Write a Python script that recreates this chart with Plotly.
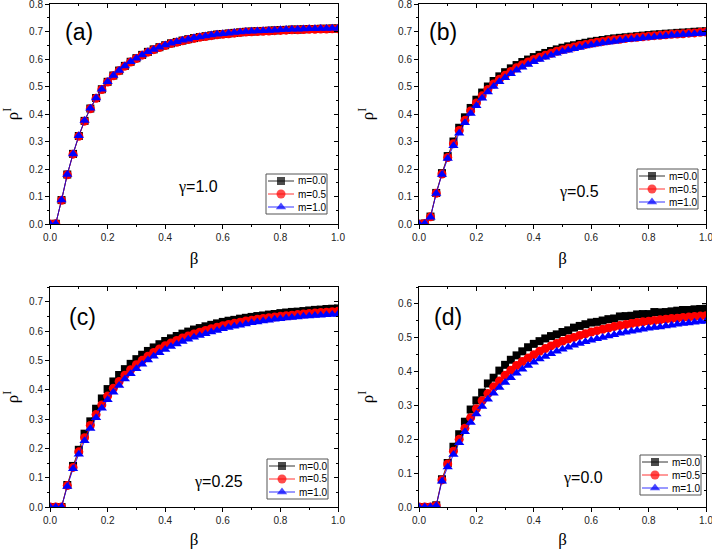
import plotly.graph_objects as go

beta = [round(i * 0.02, 2) for i in range(51)]

# Panel (a) gamma = 1.0
a_m00 = [0, 0.001, 0.087, 0.18, 0.255, 0.32, 0.375, 0.42, 0.458, 0.49, 0.517, 0.54, 0.558, 0.575, 0.59, 0.603, 0.615, 0.626, 0.635, 0.643, 0.65, 0.657, 0.662, 0.667, 0.672, 0.676, 0.68, 0.683, 0.686, 0.689, 0.691, 0.693, 0.695, 0.697, 0.699, 0.700, 0.701, 0.702, 0.703, 0.704, 0.705, 0.706, 0.707, 0.707, 0.708, 0.709, 0.709, 0.710, 0.710, 0.711, 0.711]
a_m05 = [0, 0.001, 0.086, 0.179, 0.254, 0.319, 0.374, 0.419, 0.457, 0.489, 0.516, 0.539, 0.557, 0.574, 0.589, 0.602, 0.614, 0.625, 0.634, 0.642, 0.649, 0.656, 0.661, 0.666, 0.671, 0.675, 0.679, 0.682, 0.685, 0.688, 0.690, 0.692, 0.694, 0.696, 0.698, 0.699, 0.700, 0.701, 0.702, 0.703, 0.704, 0.705, 0.706, 0.706, 0.707, 0.708, 0.708, 0.709, 0.709, 0.710, 0.710]
a_m10 = [0, 0.001, 0.087, 0.18, 0.255, 0.321, 0.376, 0.421, 0.458, 0.49, 0.517, 0.54, 0.558, 0.575, 0.59, 0.603, 0.615, 0.626, 0.635, 0.643, 0.651, 0.657, 0.663, 0.668, 0.672, 0.677, 0.68, 0.684, 0.687, 0.690, 0.692, 0.694, 0.696, 0.698, 0.700, 0.701, 0.702, 0.703, 0.704, 0.705, 0.706, 0.707, 0.708, 0.708, 0.709, 0.710, 0.710, 0.711, 0.711, 0.712, 0.712]

# Panel (b) gamma = 0.5
b_m00 = [0, 0.002, 0.027, 0.113, 0.185, 0.247, 0.30, 0.35, 0.388, 0.422, 0.452, 0.478, 0.50, 0.52, 0.537, 0.552, 0.566, 0.578, 0.589, 0.598, 0.607, 0.615, 0.622, 0.629, 0.635, 0.641, 0.646, 0.650, 0.655, 0.659, 0.663, 0.666, 0.669, 0.672, 0.675, 0.677, 0.679, 0.681, 0.683, 0.685, 0.687, 0.689, 0.690, 0.692, 0.693, 0.695, 0.696, 0.697, 0.699, 0.700, 0.701]
b_m05 = [0, 0.002, 0.026, 0.112, 0.182, 0.242, 0.292, 0.34, 0.377, 0.411, 0.44, 0.466, 0.489, 0.509, 0.526, 0.541, 0.555, 0.568, 0.579, 0.589, 0.598, 0.606, 0.614, 0.621, 0.628, 0.634, 0.639, 0.644, 0.649, 0.653, 0.657, 0.661, 0.664, 0.667, 0.670, 0.672, 0.675, 0.677, 0.679, 0.681, 0.683, 0.685, 0.686, 0.688, 0.690, 0.691, 0.692, 0.694, 0.695, 0.697, 0.698]
b_m10 = [0, 0.002, 0.025, 0.111, 0.18, 0.238, 0.285, 0.33, 0.368, 0.402, 0.43, 0.457, 0.48, 0.50, 0.517, 0.532, 0.546, 0.559, 0.57, 0.58, 0.59, 0.598, 0.606, 0.614, 0.621, 0.627, 0.632, 0.637, 0.642, 0.647, 0.651, 0.655, 0.658, 0.661, 0.664, 0.667, 0.670, 0.672, 0.674, 0.676, 0.678, 0.680, 0.682, 0.684, 0.686, 0.687, 0.689, 0.690, 0.692, 0.693, 0.695]

# Panel (c) gamma = 0.25
c_m00 = [0, 0, 0, 0.075, 0.14, 0.195, 0.25, 0.292, 0.335, 0.37, 0.402, 0.428, 0.45, 0.47, 0.488, 0.504, 0.519, 0.532, 0.544, 0.555, 0.566, 0.575, 0.583, 0.591, 0.598, 0.605, 0.610, 0.616, 0.621, 0.626, 0.631, 0.635, 0.638, 0.642, 0.645, 0.648, 0.651, 0.653, 0.656, 0.658, 0.661, 0.663, 0.665, 0.666, 0.668, 0.670, 0.672, 0.673, 0.675, 0.676, 0.677]
c_m05 = [0, 0, 0, 0.073, 0.135, 0.188, 0.236, 0.278, 0.315, 0.348, 0.378, 0.405, 0.428, 0.449, 0.468, 0.485, 0.5, 0.514, 0.527, 0.539, 0.55, 0.559, 0.568, 0.576, 0.583, 0.59, 0.596, 0.602, 0.608, 0.613, 0.618, 0.622, 0.626, 0.630, 0.634, 0.637, 0.640, 0.643, 0.645, 0.648, 0.650, 0.652, 0.654, 0.656, 0.658, 0.660, 0.661, 0.663, 0.664, 0.666, 0.667]
c_m10 = [0, 0, 0, 0.07, 0.13, 0.18, 0.226, 0.268, 0.304, 0.337, 0.366, 0.391, 0.414, 0.436, 0.454, 0.471, 0.487, 0.501, 0.514, 0.526, 0.537, 0.547, 0.556, 0.564, 0.572, 0.579, 0.585, 0.591, 0.597, 0.602, 0.608, 0.612, 0.616, 0.620, 0.624, 0.628, 0.631, 0.634, 0.637, 0.640, 0.642, 0.644, 0.646, 0.648, 0.650, 0.651, 0.653, 0.654, 0.655, 0.656, 0.657]

# Panel (d) gamma = 0.0
d_m00 = [0, 0, 0, 0.005, 0.082, 0.13, 0.178, 0.215, 0.252, 0.288, 0.315, 0.338, 0.365, 0.382, 0.403, 0.42, 0.435, 0.448, 0.46, 0.472, 0.482, 0.49, 0.498, 0.505, 0.51, 0.517, 0.522, 0.53, 0.535, 0.54, 0.545, 0.547, 0.551, 0.555, 0.557, 0.563, 0.564, 0.565, 0.569, 0.570, 0.570, 0.576, 0.575, 0.576, 0.578, 0.58, 0.582, 0.582, 0.584, 0.585, 0.586]
d_m05 = [0, 0, 0, 0.004, 0.08, 0.127, 0.165, 0.2, 0.233, 0.264, 0.29, 0.314, 0.335, 0.355, 0.372, 0.389, 0.404, 0.418, 0.43, 0.44, 0.45, 0.46, 0.468, 0.476, 0.483, 0.49, 0.496, 0.501, 0.507, 0.512, 0.517, 0.521, 0.525, 0.529, 0.533, 0.536, 0.539, 0.542, 0.545, 0.547, 0.549, 0.551, 0.553, 0.555, 0.557, 0.558, 0.560, 0.561, 0.563, 0.564, 0.565]
d_m10 = [0, 0, 0, 0.004, 0.076, 0.118, 0.155, 0.19, 0.222, 0.25, 0.275, 0.297, 0.318, 0.336, 0.353, 0.368, 0.382, 0.395, 0.407, 0.418, 0.428, 0.437, 0.445, 0.453, 0.46, 0.466, 0.472, 0.478, 0.483, 0.488, 0.493, 0.497, 0.501, 0.505, 0.509, 0.513, 0.516, 0.519, 0.522, 0.525, 0.528, 0.530, 0.532, 0.535, 0.537, 0.540, 0.542, 0.544, 0.546, 0.548, 0.549]

series_names = ["m=0.0", "m=0.5", "m=1.0"]
panel_labels = ["(a)", "(b)", "(c)", "(d)"]
gamma_labels = ["1.0", "0.5", "0.25", "0.0"]
y_tops = [0.8, 0.8, 0.75, 0.65]

panels = [
    [a_m00, a_m05, a_m10],
    [b_m00, b_m05, b_m10],
    [c_m00, c_m05, c_m10],
    [d_m00, d_m05, d_m10],
]

colors = ["#000000", "#ff0000", "#0000ff"]
symbols = ["square", "circle", "triangle-up"]
msizes = [8, 9, 9]

# ---- layout geometry (pixels from top-left of the figure) ----
W, H = 712, 549
px_x = [(50, 338), (419, 706), (50, 338), (419, 706)]
px_y = [(4, 224), (4, 224), (287, 507), (287, 507)]
label_pos = [(79, 32), (443, 32), (82, 317), (448, 317)]
gamma_pos = [(198, 187), (579, 192), (218, 482), (583, 478)]
ytitle_standoff = [6, 20, 6, 20]
legend_box = [(266, 174), (637, 169), (267, 459), (640, 455)]  # top-left corners
LEG_W, LEG_H = 61, 40


def fx(px):
    return px / W


def fy(py):
    return (H - py) / H


SANS = "Liberation Sans, Arial, sans-serif"
SERIF = "Liberation Serif, Times New Roman, serif"
tickfont = dict(family=SANS, size=10, color="#222222")

fig = go.Figure()

for p in range(4):
    xa = "x" if p == 0 else f"x{p+1}"
    ya = "y" if p == 0 else f"y{p+1}"
    for s in range(3):
        fig.add_trace(go.Scatter(
            x=beta, y=panels[p][s], xaxis=xa, yaxis=ya,
            mode="lines+markers", name=series_names[s],
            line=dict(color=colors[s], width=0.8),
            marker=dict(symbol=symbols[s], size=msizes[s], color=colors[s],
                        line=dict(width=0)),
            showlegend=False,
        ))

layout = dict(
    template="none",
    width=W, height=H, margin=dict(l=0, r=0, t=0, b=0, autoexpand=False),
    paper_bgcolor="white", plot_bgcolor="rgba(0,0,0,0)",
    font=dict(family=SANS, color="black"),
    showlegend=False,
)

shapes = []
annotations = []
key_x, key_y, key_c, key_s, key_z = [], [], [], [], []

for p in range(4):
    sfx = "" if p == 0 else str(p + 1)
    xd = [fx(px_x[p][0]), fx(px_x[p][1])]
    yd = [fy(px_y[p][1]), fy(px_y[p][0])]
    yr = [0, y_tops[p] + 1e-6]
    common = dict(showgrid=False, zeroline=False, automargin=False,
                  showline=True, linecolor="black", linewidth=1)
    layout[f"xaxis{sfx}"] = dict(
        domain=xd, anchor=f"y{sfx}", range=[0, 1.0], dtick=0.2, tick0=0,
        tickformat=".1f", ticks="outside", ticklen=4, tickwidth=1, tickcolor="black",
        minor=dict(dtick=0.1, ticks="outside", ticklen=2, tickcolor="black"),
        tickfont=tickfont, ticklabeloverflow="allow",
        title=dict(text="β", font=dict(family=SERIF, size=17), standoff=10),
        **common,
    )
    layout[f"yaxis{sfx}"] = dict(
        domain=yd, anchor=f"x{sfx}", range=yr, dtick=0.1, tick0=0,
        tickformat=".1f", ticks="outside", ticklen=4, tickwidth=1, tickcolor="black",
        minor=dict(dtick=0.05, ticks="outside", ticklen=2, tickcolor="black"),
        tickfont=tickfont, ticklabeloverflow="allow",
        title=dict(text="ρ<sup>I</sup>", font=dict(family=SERIF, size=17),
                   standoff=ytitle_standoff[p]),
        **common,
    )
    # mirrored inside ticks on top and right
    layout[f"xaxis{5+p}"] = dict(
        overlaying=f"x{sfx}", anchor=f"y{sfx}", side="top", range=[0, 1.0],
        dtick=0.2, tick0=0, ticks="inside", ticklen=4, tickcolor="black",
        minor=dict(dtick=0.1, ticks="inside", ticklen=2, tickcolor="black"),
        showticklabels=False, **common,
    )
    layout[f"yaxis{5+p}"] = dict(
        overlaying=f"y{sfx}", anchor=f"x{sfx}", side="right", range=yr,
        dtick=0.1, tick0=0, ticks="inside", ticklen=4, tickcolor="black",
        minor=dict(dtick=0.05, ticks="inside", ticklen=2, tickcolor="black"),
        showticklabels=False, **common,
    )

    # panel label and gamma label
    lx, ly = label_pos[p]
    annotations.append(dict(text=panel_labels[p], x=fx(lx), y=fy(ly),
                            xref="paper", yref="paper", xanchor="center",
                            yanchor="middle", showarrow=False,
                            font=dict(family=SANS, size=23, color="black")))
    gx, gy = gamma_pos[p]
    annotations.append(dict(
        text=f"<span style='font-family:Liberation Serif'>γ</span>={gamma_labels[p]}",
        x=fx(gx), y=fy(gy), xref="paper", yref="paper", xanchor="center",
        yanchor="middle", showarrow=False,
        font=dict(family=SANS, size=16, color="black")))

    # legend box (drawn by hand to match the compact legend of the original)
    bx, by = legend_box[p]
    shapes.append(dict(type="rect", xref="paper", yref="paper",
                       x0=fx(bx), x1=fx(bx + LEG_W), y0=fy(by + LEG_H), y1=fy(by),
                       line=dict(color="#555555", width=1), fillcolor="white",
                       layer="below"))
    for s in range(3):
        ry = by + 7 + 13 * s
        shapes.append(dict(type="line", xref="paper", yref="paper",
                           x0=fx(bx + 2), x1=fx(bx + 28), y0=fy(ry), y1=fy(ry),
                           line=dict(color=colors[s], width=0.8), layer="below"))
        key_x.append(bx + 15)
        key_y.append(ry)
        key_c.append(colors[s])
        key_s.append(symbols[s])
        key_z.append(msizes[s])
        annotations.append(dict(text=series_names[s], x=fx(bx + 30), y=fy(ry),
                                xref="paper", yref="paper", xanchor="left",
                                yanchor="middle", showarrow=False,
                                font=dict(family=SANS, size=10, color="black")))

# full-figure pixel axes for the legend key symbols
layout["xaxis9"] = dict(domain=[0, 1], range=[0, W], anchor="y9", visible=False,
                        fixedrange=True)
layout["yaxis9"] = dict(domain=[0, 1], range=[H, 0], anchor="x9", visible=False,
                        fixedrange=True)
layout["shapes"] = shapes
layout["annotations"] = annotations
fig.update_layout(**layout)

for p in range(4):
    fig.add_trace(go.Scatter(x=[], y=[], xaxis=f"x{5+p}", yaxis=f"y{5+p}",
                             showlegend=False, hoverinfo="skip"))

fig.add_trace(go.Scatter(x=key_x, y=key_y, xaxis="x9", yaxis="y9", mode="markers",
                         marker=dict(color=key_c, symbol=key_s, size=key_z,
                                     line=dict(width=0)),
                         showlegend=False, hoverinfo="skip"))

fig.write_html("out.html", config={"displayModeBar": False},
               post_script="document.body.style.margin='0';")
